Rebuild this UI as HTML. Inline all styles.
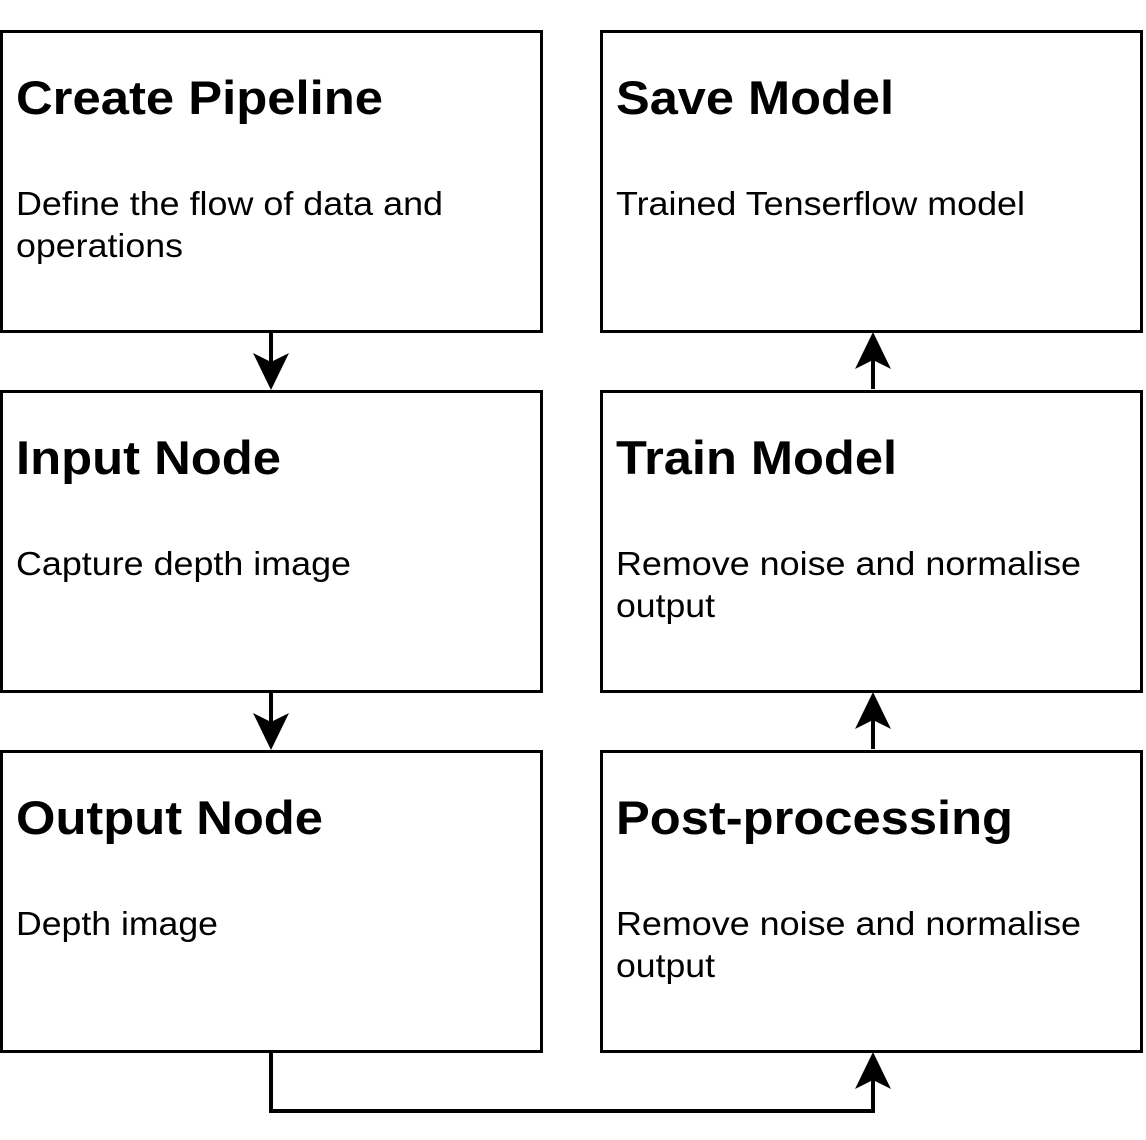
<!DOCTYPE html>
<html><head><style>html,body{margin:0;padding:0;background:#fff}</style></head>
<body>
<svg width="1146" height="1140" xmlns="http://www.w3.org/2000/svg" style="display:block">
<g fill="#fff" stroke="#000" stroke-width="3">
<rect x="1.5" y="31.5" width="540" height="300"/>
<rect x="601.5" y="31.5" width="540" height="300"/>
<rect x="1.5" y="391.5" width="540" height="300"/>
<rect x="601.5" y="391.5" width="540" height="300"/>
<rect x="1.5" y="751.5" width="540" height="300"/>
<rect x="601.5" y="751.5" width="540" height="300"/>
</g>
<g stroke="#000" stroke-width="4" fill="none">
<line x1="271" y1="333" x2="271" y2="365"/>
<line x1="271" y1="693" x2="271" y2="725"/>
<line x1="873" y1="389" x2="873" y2="357"/>
<line x1="873" y1="749" x2="873" y2="717"/>
<polyline points="271,1053 271,1111 873,1111 873,1077"/>
</g>
<g fill="#000">
<polygon points="253,353 271,362 289,353 271,390"/>
<polygon points="253,713 271,722 289,713 271,750"/>
<polygon points="855,369 873,360 891,369 873,332"/>
<polygon points="855,729 873,720 891,729 873,692"/>
<polygon points="855,1089 873,1080 891,1089 873,1052"/>
</g>
<g font-family="Liberation Sans, Arial, sans-serif" fill="#000" lengthAdjust="spacingAndGlyphs">
<g font-size="47" font-weight="bold">
<text x="16" y="114" textLength="367" lengthAdjust="spacingAndGlyphs">Create Pipeline</text>
<text x="616" y="114" textLength="278" lengthAdjust="spacingAndGlyphs">Save Model</text>
<text x="16" y="474" textLength="265" lengthAdjust="spacingAndGlyphs">Input Node</text>
<text x="616" y="474" textLength="281" lengthAdjust="spacingAndGlyphs">Train Model</text>
<text x="16" y="834" textLength="307" lengthAdjust="spacingAndGlyphs">Output Node</text>
<text x="616" y="834" textLength="397" lengthAdjust="spacingAndGlyphs">Post-processing</text>
</g>
<g font-size="33">
<text x="16" y="215" textLength="427" lengthAdjust="spacingAndGlyphs">Define the flow of data and</text>
<text x="16" y="257" textLength="167" lengthAdjust="spacingAndGlyphs">operations</text>
<text x="616" y="215" textLength="409" lengthAdjust="spacingAndGlyphs">Trained Tenserflow model</text>
<text x="16" y="575" textLength="335" lengthAdjust="spacingAndGlyphs">Capture depth image</text>
<text x="616" y="575" textLength="465" lengthAdjust="spacingAndGlyphs">Remove noise and normalise</text>
<text x="616" y="617" textLength="99" lengthAdjust="spacingAndGlyphs">output</text>
<text x="16" y="935" textLength="202" lengthAdjust="spacingAndGlyphs">Depth image</text>
<text x="616" y="935" textLength="465" lengthAdjust="spacingAndGlyphs">Remove noise and normalise</text>
<text x="616" y="977" textLength="99" lengthAdjust="spacingAndGlyphs">output</text>
</g>
</g>
</svg>
</body></html>
